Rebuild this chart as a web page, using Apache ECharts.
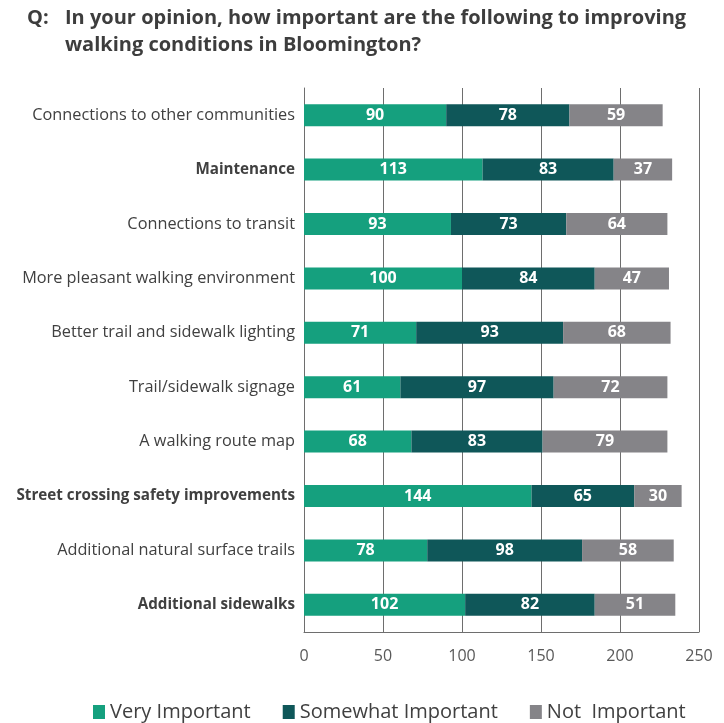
<!DOCTYPE html>
<html><head><meta charset="utf-8">
<script src="https://cdn.jsdelivr.net/npm/echarts@6/dist/echarts.min.js"></script>
<style>html,body{margin:0;padding:0;background:#fff}#c{width:724px;height:723px}</style>
</head><body><div id="c"></div>
<script>
const categories = ["Connections to other communities","Maintenance","Connections to transit","More pleasant walking environment","Better trail and sidewalk lighting","Trail/sidewalk signage","A walking route map","Street crossing safety improvements","Additional natural surface trails","Additional sidewalks"];
const boldCategories = ["Maintenance","Street crossing safety improvements","Additional sidewalks"];
const veryImportant = [90,113,93,100,71,61,68,144,78,102];
const somewhatImportant = [78,83,73,84,93,97,83,65,98,82];
const notImportant = [59,37,64,47,68,72,79,30,58,51];
const seriesNames = ["Very Important","Somewhat Important","Not  Important"];
const xTicks = [0,50,100,150,200,250];

const colors = ["#15a07e","#0f5759","#858488"];
const font = "'Open Sans', sans-serif";
const chart = echarts.init(document.getElementById('c'));
const mk = (name, data, i) => ({
  name, type: 'bar', stack: 'a', data, barWidth: 22,
  itemStyle: {color: colors[i]},
  label: {show: true, position: 'inside', color: '#fff', fontWeight: 'bold', fontSize: 16, fontFamily: font}
});
chart.setOption({
  animation: false,
  graphic: [
    {type:'text', left: 27, top: 8, style:{text:'Q:', font:"bold 20px 'Open Sans', sans-serif", fill:'#3d3d3d'}},
    {type:'text', left: 65, top: 8, style:{text:'In your opinion, how important are the following to improving', font:"bold 20px 'Open Sans', sans-serif", fill:'#3d3d3d'}},
    {type:'text', left: 65, top: 35, style:{text:'walking conditions in Bloomington?', font:"bold 20px 'Open Sans', sans-serif", fill:'#3d3d3d'}}
  ],
  grid: {left: 304, right: 25, top: 88, bottom: 91, containLabel: false},
  xAxis: {
    type: 'value', min: xTicks[0], max: xTicks[xTicks.length-1], interval: 50,
    axisLine: {show: true, lineStyle: {color: '#6e6e6e'}},
    axisTick: {show: false},
    splitLine: {show: true, lineStyle: {color: '#6e6e6e', width: 1}},
    axisLabel: {color: '#595959', fontSize: 16, fontFamily: font, margin: 16}
  },
  yAxis: {
    type: 'category', data: categories, inverse: true,
    axisLine: {show: true, lineStyle: {color: '#6e6e6e'}},
    axisTick: {show: false},
    axisLabel: {
      margin: 9, fontSize: 16.3, fontFamily: font, color: '#404040',
      formatter: v => boldCategories.includes(v) ? '{b|' + v + '}' : v,
      rich: {b: {fontWeight: 'bold', fontSize: 15.2, fontFamily: font, color: '#404040'}}
    }
  },
  legend: {
    top: 697, left: 88, itemWidth: 12, itemHeight: 14, itemGap: 32, icon: 'rect',
    textStyle: {fontSize: 20, fontFamily: font, color: '#404040'},
    data: seriesNames
  },
  series: [mk(seriesNames[0], veryImportant, 0), mk(seriesNames[1], somewhatImportant, 1), mk(seriesNames[2], notImportant, 2)]
});
</script></body></html>
